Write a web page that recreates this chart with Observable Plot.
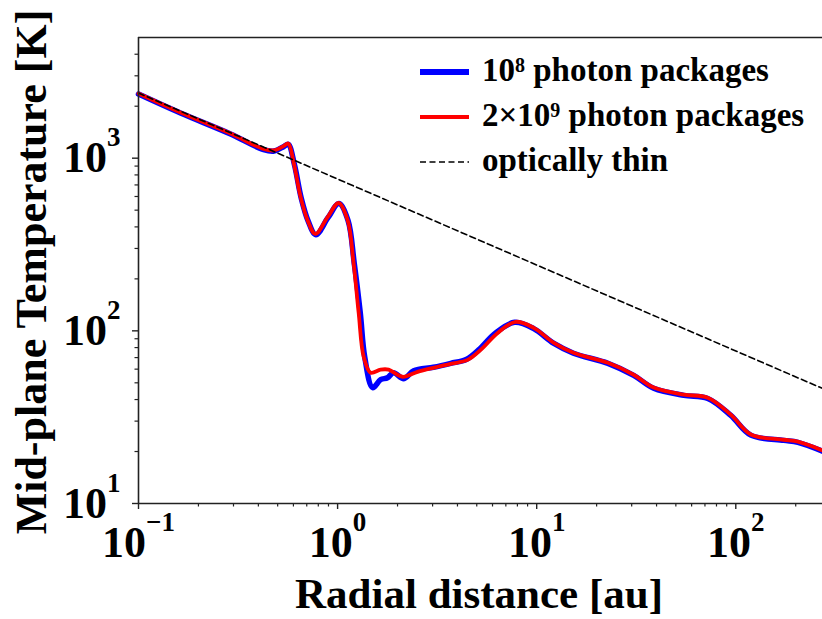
<!DOCTYPE html>
<html>
<head>
<meta charset="utf-8">
<script src="https://cdn.jsdelivr.net/npm/d3@7"></script>
<script src="https://cdn.jsdelivr.net/npm/@observablehq/plot@0.6"></script>
<style>
  html, body { margin: 0; padding: 0; background: #fff; }
  #chart { position: relative; width: 822px; height: 619px; overflow: hidden; }
</style>
</head>
<body>
<div id="chart"></div>
<script>
// ---------- data ----------
const radiusRed = [0.1, 0.1625, 0.29, 0.425, 0.48, 0.535, 0.565, 0.603, 0.652, 0.706, 0.774, 0.891, 1.012, 1.122, 1.203, 1.276, 1.352, 1.466, 1.644, 1.804, 2.12, 2.52, 3.03, 3.70, 4.50, 5.23, 6.37, 7.84, 9.66, 12.2, 15.3, 22.8, 30.7, 38.7, 54.8, 72.3, 94.4, 119, 174, 205, 272.6];
const tempRed   = [2370, 1840, 1390, 1130, 1110, 1175, 1215, 931, 596, 439, 364, 456, 550, 439, 247, 127, 70.8, 57.2, 59.6, 59.6, 54.2, 57.9, 61.1, 64.4, 67.9, 77.6, 97.3, 112.8, 104, 85.3, 74.7, 65.3, 55.7, 46.9, 42.7, 41.0, 32.7, 25.1, 23.4, 22.8, 20.3];

const radiusBlue = [0.1, 0.1625, 0.29, 0.425, 0.48, 0.535, 0.565, 0.606, 0.656, 0.71, 0.778, 0.895, 1.015, 1.128, 1.212, 1.30, 1.37, 1.50, 1.644, 1.78, 1.91, 2.15, 2.41, 3.03, 3.70, 4.45, 5.11, 6.22, 7.75, 9.66, 12.2, 15.3, 22.8, 30.7, 38.7, 54.8, 72.3, 94.4, 119, 174, 205, 272.6];
const tempBlue   = [2350, 1825, 1380, 1120, 1100, 1165, 1205, 925, 590, 435, 360, 452, 546, 436, 247, 127, 70, 46.9, 52.1, 53.5, 57.2, 52.8, 58.7, 61.5, 64.8, 68.5, 77.6, 97.3, 112, 103, 84.5, 74.2, 64.8, 55.2, 46.5, 42.3, 40.6, 32.4, 24.9, 23.2, 22.6, 20.1];

const thinRadius = [0.1, 272.6];
const thinTemp   = [2384, 46.4];

const xMajor = [0.1, 1, 10, 100];
const xMajorExp = ["\u22121", "0", "1", "2"];
const xMinor = [0.2,0.3,0.4,0.5,0.6,0.7,0.8,0.9, 2,3,4,5,6,7,8,9, 20,30,40,50,60,70,80,90, 200];
const yMajor = [10, 100, 1000];
const yMajorExp = ["1", "2", "3"];
const yMinor = [20,30,40,50,60,70,80,90, 200,300,400,500,600,700,800,900, 2000,3000,4000];

const xTitle = "Radial distance [au]";
const yTitle = "Mid-plane Temperature [K]";

const legendItems = [
  {parts: [["10", 0], ["8", 1], [" photon packages", 0]], color: "#0000ff", width: 6, dash: null},
  {parts: [["2\u00d710", 0], ["9", 1], [" photon packages", 0]], color: "#ff0000", width: 4, dash: null},
  {parts: [["optically thin", 0]], color: "#000000", width: 1.6, dash: "6,3.5"}
];

// ---------- build ----------
const red = radiusRed.map((r, i) => ({r, t: tempRed[i]}));
const blue = radiusBlue.map((r, i) => ({r, t: tempBlue[i]}));
const thin = thinRadius.map((r, i) => ({r, t: thinTemp[i]}));

const FONT = "'Liberation Serif', 'Times New Roman', serif";
const W = 822, H = 619;
const mTop = 37, mBottom = 116, mLeft = 138, mRight = 0;

const expFor = (vals, exps) => d => exps[vals.findIndex(v => Math.abs(v - d) / v < 1e-6)] ?? "";

const plot = Plot.plot({
  width: W,
  height: H,
  marginTop: mTop,
  marginBottom: mBottom,
  marginLeft: mLeft,
  marginRight: mRight,
  style: {fontFamily: FONT, background: "#fff", overflow: "visible"},
  x: {type: "log", domain: [0.1, 272.6]},
  y: {type: "log", domain: [10, 5000]},
  marks: [
    Plot.line(blue, {x: "r", y: "t", stroke: "#0000ff", strokeWidth: 5.5, curve: "catmull-rom", strokeLinejoin: "round", strokeLinecap: "round"}),
    Plot.line(red, {x: "r", y: "t", stroke: "#ff0000", strokeWidth: 3.8, curve: "catmull-rom", strokeLinejoin: "round", strokeLinecap: "round"}),
    Plot.line(thin, {x: "r", y: "t", stroke: "#000", strokeWidth: 1.6, strokeDasharray: "6,3.5"}),
    Plot.ruleX([0.1], {stroke: "#222", strokeWidth: 1.6}),
    Plot.ruleY([10], {stroke: "#222", strokeWidth: 1.6}),
    Plot.ruleY([5000], {stroke: "#222", strokeWidth: 1.6}),
    Plot.axisX({ticks: xMinor, tickSize: 3.5, tickFormat: () => "", label: null, stroke: "#222", strokeWidth: 1.2}),
    Plot.axisY({ticks: yMinor, tickSize: 3.5, tickFormat: () => "", label: null, stroke: "#222", strokeWidth: 1.2}),
    Plot.axisX({ticks: xMajor, tickSize: 6, tickPadding: 16.5, tickFormat: expFor(xMajor, xMajorExp), label: null,
      stroke: "#222", strokeWidth: 1.4, fontSize: 44, fontWeight: "bold", fill: "#000", ariaLabel: "xmajor"}),
    Plot.axisY({ticks: yMajor, tickSize: 6, tickPadding: 12, tickFormat: expFor(yMajor, yMajorExp), label: null,
      stroke: "#222", strokeWidth: 1.4, fontSize: 44, fontWeight: "bold", fill: "#000", ariaLabel: "ymajor"})
  ]
});

document.getElementById("chart").appendChild(plot);
const svg = d3.select(plot);

// rebuild major tick labels as 10 with superscript exponent
svg.selectAll("g[aria-label$='tick label'] text").each(function () {
  const t = d3.select(this);
  const exp = t.text();
  if (!exp) return;
  t.text(null);
  t.attr("font-family", FONT).attr("font-weight", "bold").attr("font-size", 44);
  t.append("tspan").text("10");
  t.append("tspan").attr("dy", -26).attr("font-size", 27).text(exp);
});
// vertical nudge for y labels (center whole "10^n" on the tick)
svg.selectAll("g[aria-label^='y-axis tick label'] text").attr("dy", "0.46em");

// axis titles
svg.append("text")
  .attr("x", mLeft + (W - mLeft - mRight) / 2 - 1)
  .attr("y", 608)
  .attr("text-anchor", "middle")
  .attr("font-family", FONT).attr("font-weight", "bold").attr("font-size", 43)
  .attr("fill", "#000")
  .text(xTitle);
svg.append("text")
  .attr("transform", `translate(46,${(mTop + (H - mBottom)) / 2 + 2}) rotate(-90)`)
  .attr("text-anchor", "middle")
  .attr("font-family", FONT).attr("font-weight", "bold").attr("font-size", 44)
  .attr("fill", "#000")
  .text(yTitle);

// legend
const lg = svg.append("g").attr("aria-label", "legend");
legendItems.forEach((it, i) => {
  const yLine = 72 + i * 45;
  lg.append("line")
    .attr("x1", 420).attr("x2", 469).attr("y1", yLine).attr("y2", yLine)
    .attr("stroke", it.color).attr("stroke-width", it.width)
    .attr("stroke-dasharray", it.dash);
  const tx = lg.append("text")
    .attr("x", 482).attr("y", yLine + 9)
    .attr("text-anchor", "start")
    .attr("font-family", FONT).attr("font-weight", "bold").attr("font-size", 33)
    .attr("fill", "#000");
  let raised = false;
  it.parts.forEach(([s, sup]) => {
    const ts = tx.append("tspan").text(s);
    if (sup) { ts.attr("dy", -9).attr("font-size", 20); raised = true; }
    else if (raised) { ts.attr("dy", 9); raised = false; }
  });
});
</script>
</body>
</html>
